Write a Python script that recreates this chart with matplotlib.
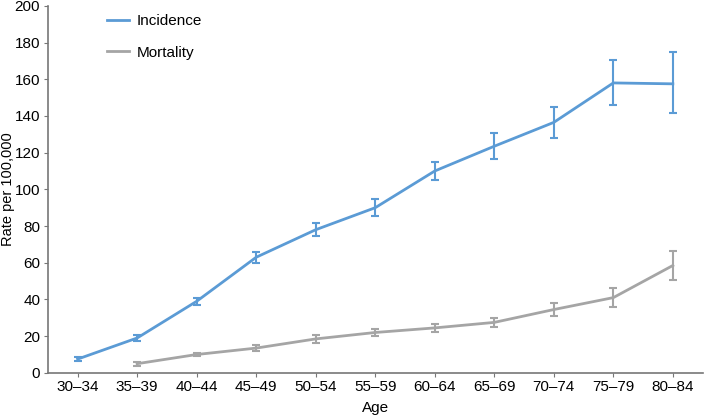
import numpy as np
import matplotlib.pyplot as plt

plt.rcParams['font.family'] = ['Liberation Sans', 'DejaVu Sans']

ages = ['30–34', '35–39', '40–44', '45–49', '50–54', '55–59',
        '60–64', '65–69', '70–74', '75–79', '80–84']

incidence = [7.5, 19, 39, 63, 78, 90, 110, 123.5, 136.5, 158, 157.5]
inc_lo = [1, 1.5, 2, 3, 3.5, 4.5, 5, 7, 8.5, 12, 16]
inc_hi = [1, 1.5, 2, 3, 3.5, 4.5, 5, 7, 8.5, 12.5, 17.5]

mortality = [5, 10, 13.5, 18.5, 22, 24.5, 27.5, 34.5, 41, 58.5]
mort_err = [1, 1, 1.5, 2, 2, 2, 2.5, 3.5, 5, 8]

blue = '#5b9bd5'
gray = '#a5a5a5'

fig = plt.figure(figsize=(7.04, 4.18), dpi=100)
ax = fig.add_axes([0.068, 0.108, 0.93, 0.878])

x = np.arange(len(ages))
ax.errorbar(x, incidence, yerr=[inc_lo, inc_hi], color=blue, lw=2,
            capsize=3, elinewidth=1.5, capthick=1.5, label='Incidence')
ax.errorbar(x[1:], mortality, yerr=mort_err, color=gray, lw=2,
            capsize=3, elinewidth=1.5, capthick=1.5, label='Mortality')

ax.set_xlim(-0.5, 10.5)
ax.set_ylim(0, 200)
ax.set_yticks(range(0, 201, 20))
ax.set_xticks(x)
ax.set_xticklabels(ages)
ax.tick_params(labelsize=11, colors='#777777', labelcolor='black', length=3, pad=2.5)
ax.set_xlabel('Age', fontsize=11)
ax.set_ylabel('Rate per 100,000', fontsize=10.5)
ax.xaxis.set_label_coords(0.5, -0.078)
ax.yaxis.set_label_coords(-0.0505, 0.5)
for s in ['top', 'right']:
    ax.spines[s].set_visible(False)
for s in ['left', 'bottom']:
    ax.spines[s].set_color('#777777')
    ax.spines[s].set_linewidth(1.2)

handles, labels = ax.get_legend_handles_labels()
handles = [h[0] for h in handles]
ax.legend(handles, labels, loc='upper left', bbox_to_anchor=(0.07, 1.015),
          frameon=False, fontsize=11, labelspacing=1.15, handlelength=1.4,
          handletextpad=0.5)

fig.savefig('out.png', dpi=100)
